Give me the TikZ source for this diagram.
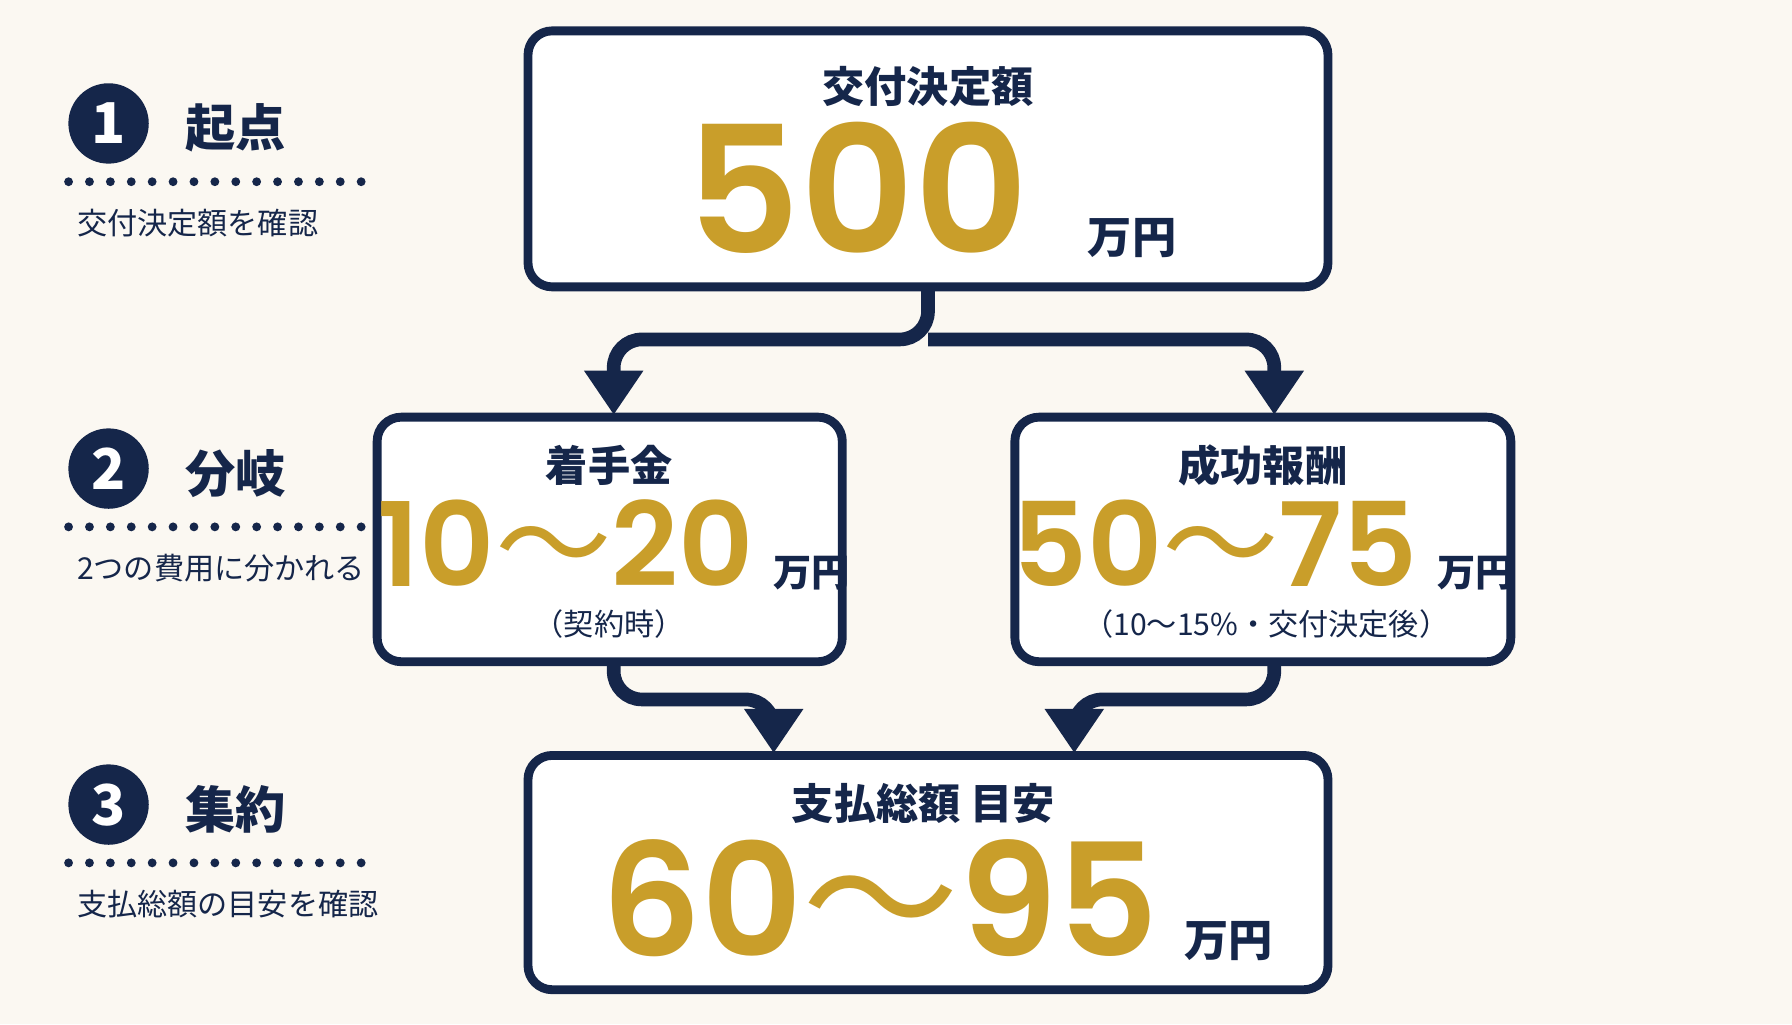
\documentclass[tikz,border=0pt]{standalone}
\usepackage{fontspec}
\setmainfont{Noto Sans CJK JP}
\newfontfamily\numfont{Poppins}[UprightFont=* SemiBold]
\usetikzlibrary{arrows.meta}
\usetikzlibrary{positioning}
\definecolor{navy}{HTML}{15264A}
\definecolor{gold}{HTML}{C99E2A}
\definecolor{paper}{HTML}{FBF8F2}
\newcommand{\fs}[1]{\fontsize{#1}{#1}\selectfont}

\begin{document}
\begin{tikzpicture}[x=0.01cm,y=-0.01cm,>={Triangle[length=11pt,width=14pt]},
  box/.style={draw=navy,line width=2.2pt,rounded corners=6pt,fill=white},
  link/.style={draw=navy,line width=3.4pt,rounded corners=7pt,->},
  title/.style={text=navy,font=\bfseries\fs{10.5}},
  unit/.style={text=navy,font=\bfseries\fs{10}},
  stepmark/.style={circle,fill=navy,text=white,minimum size=20pt,inner sep=0pt,font=\bfseries\fs{14}},
  stage/.style={text=navy,font=\bfseries\fs{12.5},anchor=west},
  note/.style={text=navy,font=\fs{7.5},anchor=west}]
  \fill[paper] (0,0) rectangle (1568,896);
  \useasboundingbox (0,0) rectangle (1568,896);

  % boxes
  \draw[box] (462,27) rectangle (1162,251);
  \draw[box] (330,365) rectangle (737,579);
  \draw[box] (888,365) rectangle (1322,579);
  \draw[box] (462,661) rectangle (1162,866);
  \coordinate (top) at (812,253);
  \coordinate (left) at (537,581);
  \coordinate (right) at (1115,581);
  \coordinate (lin) at (537,363);
  \coordinate (rin) at (1115,363);
  \coordinate (bl) at (677,659);
  \coordinate (br) at (940,659);

  % texts in boxes
  \node[title] (t1) at (812,76) {交付決定額};
  \node[anchor=base] (v1) at (815,222) {\numfont\color{gold}\fs{44}500\,\,{\bfseries\rmfamily\color{navy}\fs{11}万円}};
  \node[title] (t2) at (533,407) {着手金};
  \node[anchor=base] (v2) at (537,513) {\numfont\color{gold}\fs{29}10{\rmfamily〜}20\,{\bfseries\rmfamily\color{navy}\fs{9.5}万円}};
  \node[text=navy,font=\fs{7.5}] (n2) at (533,546) {（契約時）};
  \node[title] (t3) at (1105,407) {成功報酬};
  \node[anchor=base] (v3) at (1105,513) {\numfont\color{gold}\fs{29}50{\rmfamily〜}75\,{\bfseries\rmfamily\color{navy}\fs{9.5}万円}};
  \node[text=navy,font=\fs{7.5}] (n3) at (1108,546) {（10〜15\%・交付決定後）};
  \node[title] (t4) at (808,703) {支払総額 目安};
  \node[anchor=base] (v4) at (820,837) {\numfont\color{gold}\fs{39}60{\rmfamily〜}95\,{\bfseries\rmfamily\color{navy}\fs{11}万円}};

  % connectors
  \draw[link] (top) -- (812,297) -- (537,297) -- (lin);
  \draw[link] (812,297) -- (1115,297) -- (rin);
  \draw[link] (left) -- (537,612) -- (677,612) -- (bl);
  \draw[link] (right) -- (1115,612) -- (940,612) -- (br);

  % steps on the left
  \foreach \n/\y/\s/\t in {1/108/起点/交付決定額を確認,2/410/分岐/2つの費用に分かれる,3/704/集約/支払総額の目安を確認} {
    \node[stepmark] (c\n) at (95,\y) {\n};
    \node[stage] (s\n) at (150,\y+4) {\s};
    \draw[navy,line width=2.2pt,line cap=round,dash pattern=on 0pt off 5.2pt] (60,\y+51) -- (320,\y+51);
    \node[note] (d\n) at (55,\y+87) {\t};
  }
\end{tikzpicture}
\end{document}
